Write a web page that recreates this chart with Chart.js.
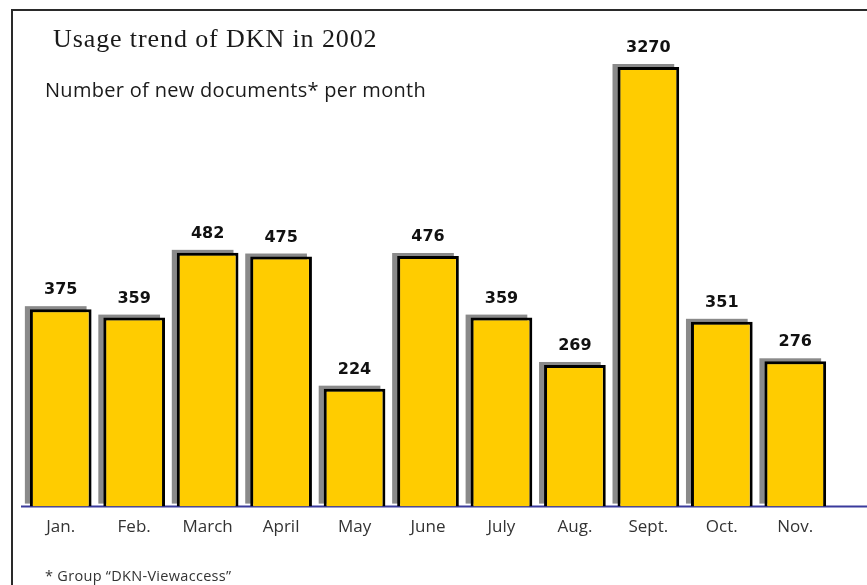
<!DOCTYPE html>
<html>
<head>
<meta charset="utf-8">
<script src="https://cdn.jsdelivr.net/npm/chart.js@4/dist/chart.umd.min.js"></script>
<style>
  html, body { margin: 0; padding: 0; background: #fff; }
  #wrap { position: relative; width: 867px; height: 585px; overflow: hidden; }
  #frame { position: absolute; left: 11px; top: 9px; right: -5px; bottom: -5px;
           border-top: 2px solid #2a2a2a; border-left: 2px solid #2a2a2a; }
  canvas { position: absolute; left: 0; top: 0; }
  .txt { position: absolute; white-space: nowrap; color: #1a1a1a; }
  #title { left: 53px; top: 24px; line-height: 32px; font: 26px "Liberation Serif", serif; letter-spacing: 0.9px; }
  #sub { left: 45px; top: 76px; line-height: 28px; font: 20px "Open Sans", sans-serif; letter-spacing: 0.3px; }
  #note { left: 45px; top: 566px; line-height: 20px; font: 14.5px "Open Sans", sans-serif; color: #333; letter-spacing: 0.3px; }
</style>
</head>
<body>
<div id="wrap">
  <div id="frame"></div>
  <canvas id="myChart" width="867" height="585"></canvas>
  <div class="txt" id="title">Usage trend of DKN in 2002</div>
  <div class="txt" id="sub">Number of new documents* per month</div>
  <div class="txt" id="note">* Group “DKN-Viewaccess”</div>
</div>
<script>
var months = ["Jan.", "Feb.", "March", "April", "May", "June", "July", "Aug.", "Sept.", "Oct.", "Nov."];
var newDocs = [375, 359, 482, 475, 224, 476, 359, 269, 3270, 351, 276];

// the axis is broken at the top: anything higher is drawn at full height
var Y_MAX = 835;
var plotted = newDocs.map(function (v) { return Math.min(v, Y_MAX); });

var barShadow = {
    id: 'barShadow',
    beforeDatasetsDraw: function (chart) {
        var c = chart.ctx;
        var area = chart.chartArea;
        // blue base line
        c.save();
        c.strokeStyle = '#3a3a9c';
        c.lineWidth = 2;
        c.beginPath();
        c.moveTo(21, area.bottom);
        c.lineTo(chart.width, area.bottom);
        c.stroke();
        // grey drop shadow up/left of each bar
        c.fillStyle = '#8a8a8a';
        chart.getDatasetMeta(0).data.forEach(function (bar) {
            var w = bar.width;
            c.fillRect(bar.x - w / 2 - 5, bar.y - 3, w, bar.base - bar.y);
        });
        c.restore();
    },
    afterDatasetsDraw: function (chart) {
        var c = chart.ctx;
        c.save();
        c.font = 'bold 16px "DejaVu Sans", sans-serif';
        c.fillStyle = '#111';
        c.textAlign = 'center';
        c.textBaseline = 'middle';
        chart.getDatasetMeta(0).data.forEach(function (bar, i) {
            c.fillText(String(newDocs[i]), bar.x, bar.y - 19);
        });
        c.restore();
    }
};

var ctx = document.getElementById('myChart').getContext('2d');
var myChart = new Chart(ctx, {
    type: 'bar',
    data: {
        labels: months,
        datasets: [{
            data: plotted,
            backgroundColor: '#ffcc00',
            borderColor: '#000',
            borderWidth: 3,
            barPercentage: 0.84,
            categoryPercentage: 1
        }]
    },
    options: {
        responsive: false,
        animation: false,
        layout: { padding: { left: 24, right: 35, top: 67, bottom: 38 } },
        plugins: { legend: { display: false }, tooltip: { enabled: false } },
        scales: {
            x: {
                grid: { display: false, drawTicks: false },
                border: { display: false },
                ticks: {
                    padding: 10,
                    color: '#333',
                    font: { family: '"Open Sans", sans-serif', size: 17 }
                }
            },
            y: {
                display: false,
                min: 0,
                max: Y_MAX
            }
        }
    },
    plugins: [barShadow]
});
</script>
</body>
</html>
